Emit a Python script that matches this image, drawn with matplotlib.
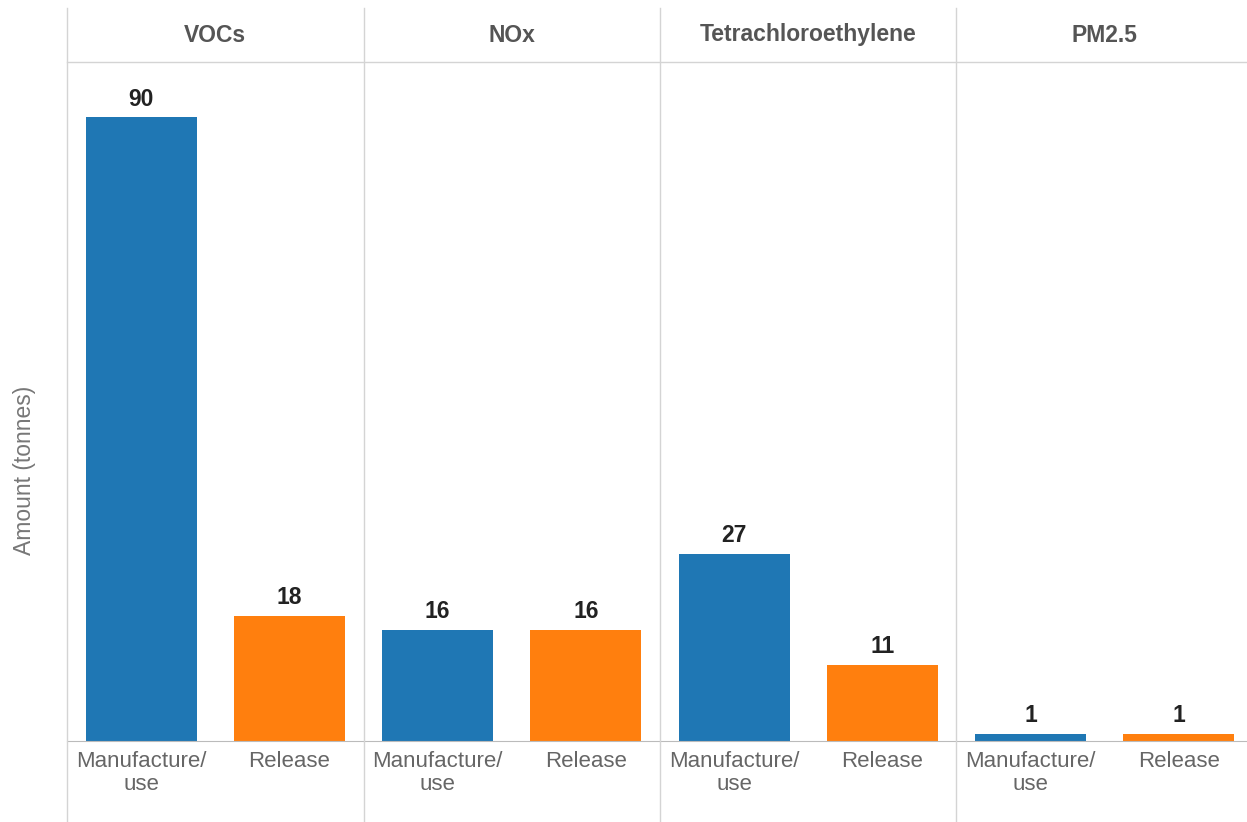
import matplotlib
matplotlib.use('Agg')
import matplotlib.pyplot as plt
from matplotlib.lines import Line2D

plt.rcParams['font.family'] = ['Liberation Sans', 'DejaVu Sans']

pollutants = ['VOCs', 'NOx', 'Tetrachloroethylene', 'PM2.5']
stages = ['Manufacture/\nuse', 'Release']
manufacture = [90, 16, 27, 1]
release = [18, 16, 11, 1]

BLUE = '#1F77B4'
ORANGE = '#FF7F0E'
GRID = '#d4d4d4'

fig = plt.figure(figsize=(12.47, 8.22), dpi=100)

left = 67 / 1247
bottom, top = 1 - 741 / 822, 1 - 62 / 822
w = 296.5 / 1247

for i, name in enumerate(pollutants):
    ax = fig.add_axes([left + i * w, bottom, w, top - bottom])
    vals = [manufacture[i], release[i]]
    bars = ax.bar([0, 1], vals, width=0.75, color=[BLUE, ORANGE])
    for b, v in zip(bars, vals):
        ax.text(b.get_x() + b.get_width() / 2, v + 1.0, str(v),
                ha='center', va='bottom', fontsize=16.5, fontweight='bold',
                color='#222222')
    ax.set_xlim(-0.5, 1.5)
    ax.set_ylim(0, 98)
    ax.set_xticks([0, 1])
    ax.set_xticklabels(stages, fontsize=16, color='#666666', linespacing=1.15)
    ax.tick_params(axis='x', length=0, pad=7)
    ax.set_yticks([])
    for s in ['top', 'left', 'right']:
        ax.spines[s].set_visible(False)
    ax.spines['bottom'].set_color('#bbbbbb')
    ax.patch.set_alpha(0)
    # facet header
    fig.text(left + (i + 0.5) * w, 1 - 35 / 822, name, ha='center',
             va='center', fontsize=16.5, fontweight='bold', color='#555555')

# panel dividers and header rule
for i in range(4):
    x = left + i * w
    fig.add_artist(Line2D([x, x], [0, 1 - 8 / 822], color=GRID, lw=1))
fig.add_artist(Line2D([left, 1], [top, top], color=GRID, lw=1))

fig.text(25 / 1247, 1 - 470 / 822, 'Amount (tonnes)', rotation=90,
         ha='center', va='center', fontsize=16.5, color='#777777')

plt.savefig('out.png', dpi=100)
